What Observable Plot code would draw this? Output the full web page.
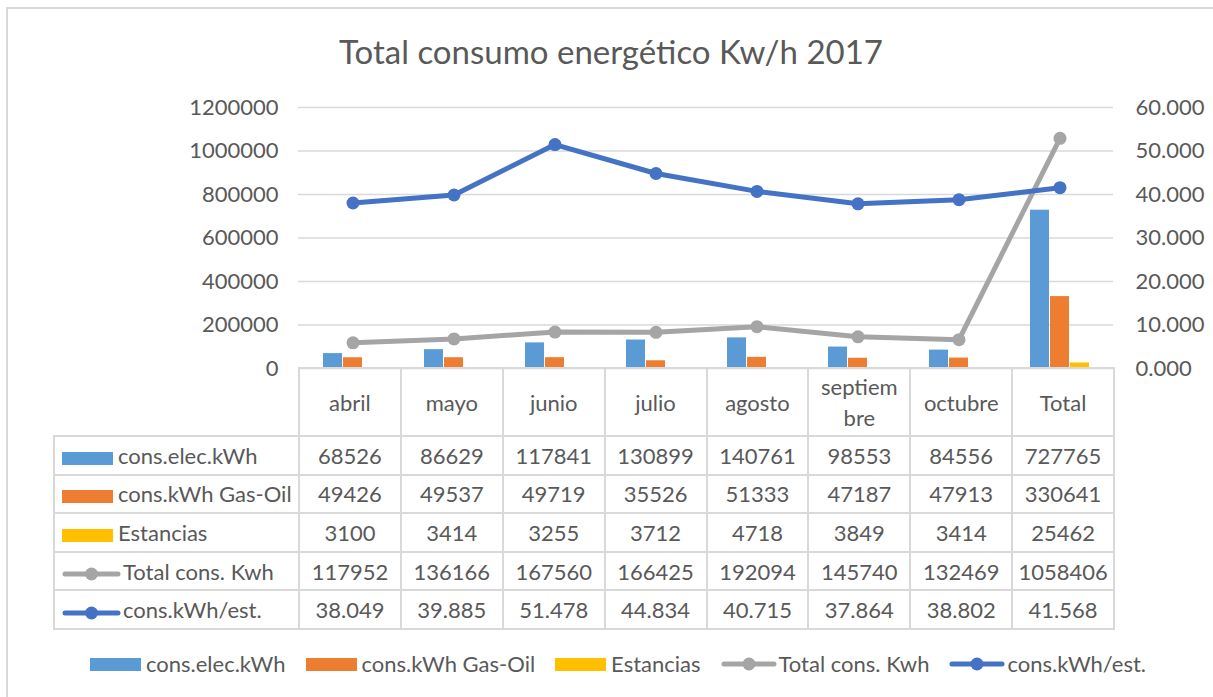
<!DOCTYPE html>
<html><head><meta charset="utf-8">
<script src="https://cdn.jsdelivr.net/npm/d3@7"></script>
<script src="https://cdn.jsdelivr.net/npm/@observablehq/plot@0.6"></script>
<style>
body{margin:0;background:#fff;font-family:Lato,"Open Sans",sans-serif;color:#595959;}
#wrap{position:relative;width:1213px;height:697px;overflow:hidden;background:#fff;}
#frame{position:absolute;left:6px;top:7px;width:1240px;height:720px;border:2px solid #d9d9d9;box-sizing:border-box;}
#title{position:absolute;left:0;width:1222px;top:32px;text-align:center;font-size:33px;line-height:38px;color:#595959;}
#chart{position:absolute;left:0;top:0;}
#tbl{position:absolute;left:53px;top:367px;border-collapse:collapse;table-layout:fixed;width:1060px;font-size:22px;color:#595959;}
#tbl td{border:2px solid #d9d9d9;text-align:center;vertical-align:middle;padding:0;white-space:nowrap;box-sizing:border-box;}
#tbl tr.head td{height:68px;white-space:pre-line;line-height:31px;}
#tbl tr.row td{height:38.6px;}
#tbl td.blank{border-top:none;border-left:none;}
#tbl td.lab{text-align:left;padding-left:7px;}
.sym{display:inline-block;vertical-align:middle;margin-right:5px;}
#legend{position:absolute;left:0;width:1236px;top:650px;display:flex;justify-content:center;gap:20px;font-size:22px;line-height:28px;}
#legend .it{display:flex;align-items:center;}
</style>
</head><body>
<div id="wrap">
  <div id="frame"></div>
  <div id="chart"></div>
  <div id="title"></div>
  <table id="tbl"></table>
  <div id="legend"></div>
</div>
<script>
const titleText = "Total consumo energético Kw/h 2017";
const categories = ["abril","mayo","junio","julio","agosto","septiembre","octubre","Total"];
const columnLabels = ["abril","mayo","junio","julio","agosto","septiem\nbre","octubre","Total"];
const seriesNames = ["cons.elec.kWh","cons.kWh Gas-Oil","Estancias","Total cons. Kwh","cons.kWh/est."];
const consElec = [68526, 86629, 117841, 130899, 140761, 98553, 84556, 727765];
const consGasOil = [49426, 49537, 49719, 35526, 51333, 47187, 47913, 330641];
const estancias = [3100, 3414, 3255, 3712, 4718, 3849, 3414, 25462];
const totalCons = [117952, 136166, 167560, 166425, 192094, 145740, 132469, 1058406];
const consPerEst = [38.049, 39.885, 51.478, 44.834, 40.715, 37.864, 38.802, 41.568];
const leftTicks = [0, 200000, 400000, 600000, 800000, 1000000, 1200000];
const rightTicks = [0, 10, 20, 30, 40, 50, 60];
const colors = ["#5b9bd5", "#ed7d31", "#ffc000", "#a5a5a5", "#4472c4"];
const kinds = ["bar", "bar", "bar", "line", "line"];

const leftMax = leftTicks[leftTicks.length - 1];
const rightMax = rightTicks[rightTicks.length - 1];
const k = leftMax / rightMax; // secondary axis mapped onto primary scale

const rows = categories.map((c, i) => ({
  cat: c, elec: consElec[i], gas: consGasOil[i], est: estancias[i],
  total: totalCons[i], perEst: consPerEst[i]
}));

document.getElementById("title").textContent = titleText;

const chart = Plot.plot({
  width: 1213, height: 380,
  marginTop: 107, marginBottom: 12, marginLeft: 298, marginRight: 100,
  style: {fontFamily: "Lato, 'Open Sans', sans-serif", fontSize: "22px", color: "#595959", background: "transparent", overflow: "visible"},
  x: {type: "band", domain: categories, padding: 0, axis: null},
  y: {domain: [0, leftMax], axis: null},
  marks: [
    Plot.gridY(leftTicks, {stroke: "#d9d9d9", strokeOpacity: 1, strokeWidth: 1.5}),
    Plot.axisY(leftTicks, {anchor: "left", tickSize: 0, tickPadding: 20, tickFormat: d => String(d), fill: "#595959"}),
    Plot.axisY(rightTicks.map(v => v * k), {anchor: "right", tickSize: 0, tickPadding: 22, tickFormat: d => (d / k).toFixed(3), fill: "#595959"}),
    Plot.barY(rows, {x: "cat", y: "elec", fill: colors[0], insetLeft: 21, insetRight: 61}),
    Plot.barY(rows, {x: "cat", y: "gas", fill: colors[1], insetLeft: 41, insetRight: 41}),
    Plot.barY(rows, {x: "cat", y: "est", fill: colors[2], insetLeft: 61, insetRight: 21}),
    Plot.line(rows, {x: "cat", y: "total", stroke: colors[3], strokeWidth: 5}),
    Plot.dot(rows, {x: "cat", y: "total", fill: colors[3], r: 6.5}),
    Plot.line(rows, {x: "cat", y: d => d.perEst * k, stroke: colors[4], strokeWidth: 5}),
    Plot.dot(rows, {x: "cat", y: d => d.perEst * k, fill: colors[4], r: 6.5})
  ]
});
document.getElementById("chart").appendChild(chart);

function symbol(kind, color, w) {
  if (kind === "bar") {
    return `<span class="sym" style="width:${w}px;height:13px;background:${color}"></span>`;
  }
  return `<svg class="sym" width="${w + 6}" height="16" style="margin-right:2px"><line x1="3" x2="${w + 3}" y1="8" y2="8" stroke="${color}" stroke-width="5" stroke-linecap="round"/><circle cx="${(w + 6) / 2}" cy="8" r="6.5" fill="${color}"/></svg>`;
}

const seriesData = [consElec, consGasOil, estancias, totalCons, consPerEst];
const fmt = [String, String, String, String, v => v.toFixed(3)];
let html = `<colgroup><col style="width:245px">${categories.map(() => `<col style="width:101.875px">`).join("")}</colgroup>`;
html += `<tr class="head"><td class="blank"></td>${columnLabels.map(l => `<td>${l}</td>`).join("")}</tr>`;
seriesNames.forEach((name, s) => {
  html += `<tr class="row"><td class="lab">${symbol(kinds[s], colors[s], kinds[s] === "bar" ? 51 : 53)}${name}</td>${seriesData[s].map(v => `<td>${fmt[s](v)}</td>`).join("")}</tr>`;
});
document.getElementById("tbl").innerHTML = html;

document.getElementById("legend").innerHTML = seriesNames.map((name, s) =>
  `<span class="it">${symbol(kinds[s], colors[s], kinds[s] === "bar" ? 51 : 50)}${name}</span>`).join("");
</script>
</body></html>
